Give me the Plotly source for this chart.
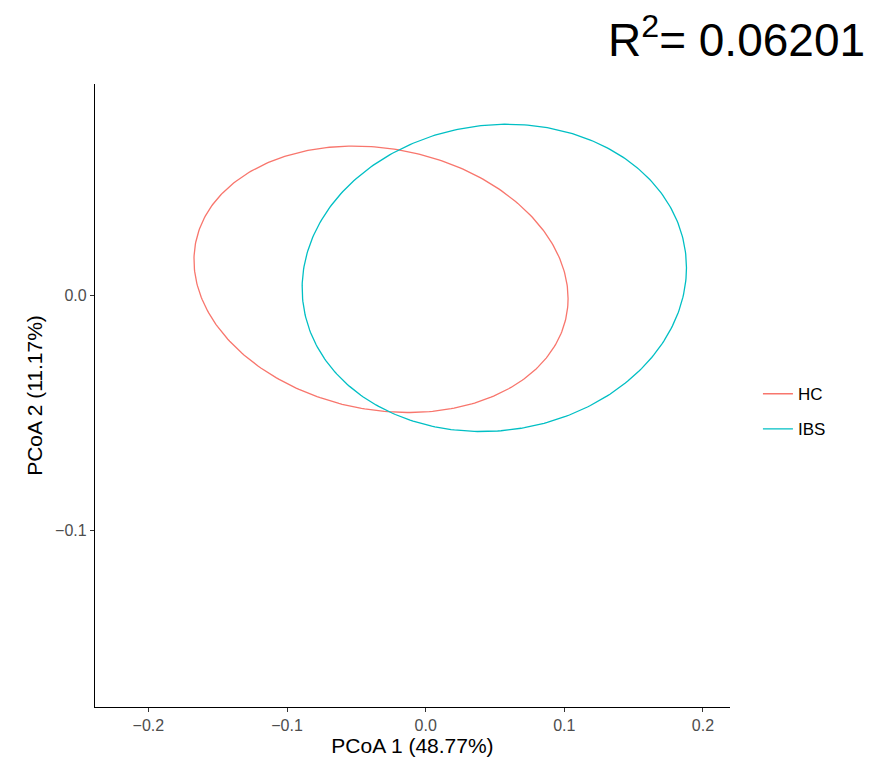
import numpy as np
import plotly.graph_objects as go

# Group ellipse parameters
groups = ["HC", "IBS"]
colors = ["#F8766D", "#00BFC4"]
center_x = [-0.0322, 0.0495]
center_y = [0.0067, 0.0073]
var_x = [0.01820, 0.01921]
var_y = [0.003214, 0.004274]
cov_xy = [-0.00110, 0.00060]

x_title = "PCoA 1 (48.77%)"
y_title = "PCoA 2 (11.17%)"
x_ticks = [-0.2, -0.1, 0.0, 0.1, 0.2]
x_tick_text = ["\u22120.2", "\u22120.1", "0.0", "0.1", "0.2"]
y_ticks = [-0.1, 0.0]
y_tick_text = ["\u22120.1", "0.0"]
r2_label = "R<sup>2</sup>= 0.06201"

FONT = "Liberation Sans, Arial"

fig = go.Figure()
t = np.linspace(0, 2 * np.pi, 361)
for g, c, cx, cy, vx, vy, cxy in zip(groups, colors, center_x, center_y, var_x, var_y, cov_xy):
    S = np.array([[vx, cxy], [cxy, vy]])
    L = np.linalg.cholesky(S)
    pts = L @ np.vstack([np.cos(t), np.sin(t)])
    fig.add_trace(go.Scatter(
        x=cx + pts[0], y=cy + pts[1], mode="lines", name=g,
        legendgroup=g, line=dict(color=c, width=1.3), hoverinfo="skip"))

axis_common = dict(
    showgrid=False, zeroline=False, showline=True, linecolor="black", linewidth=1.2,
    ticks="outside", ticklen=4, tickcolor="#333333", tickwidth=1.1,
    tickfont=dict(family=FONT, size=16, color="#4d4d4d"),
    title_font=dict(family=FONT, size=21, color="black"),
)

fig.update_layout(
    width=874, height=757,
    paper_bgcolor="white", plot_bgcolor="white",
    margin=dict(l=87, r=152, t=76, b=58),
    xaxis=dict(range=[-0.2385, 0.2195], tickvals=x_ticks, ticktext=x_tick_text,
               title=dict(text=x_title, standoff=2), **axis_common),
    yaxis=dict(range=[-0.1753, 0.0898], tickvals=y_ticks, ticktext=y_tick_text,
               title=dict(text=y_title, standoff=6), **axis_common),
    legend=dict(x=1.044, xanchor="left", y=0.474, yanchor="middle",
                font=dict(family=FONT, size=17, color="black"),
                tracegroupgap=10, bgcolor="rgba(0,0,0,0)"),
    showlegend=True,
    annotations=[dict(text=r2_label, xref="paper", yref="paper",
                      x=(859 - 87) / 635, y=(706 - 36) / 623,
                      xanchor="right", yanchor="middle", showarrow=False,
                      font=dict(family=FONT, size=46, color="black"))],
)

fig.write_html("out.html")
